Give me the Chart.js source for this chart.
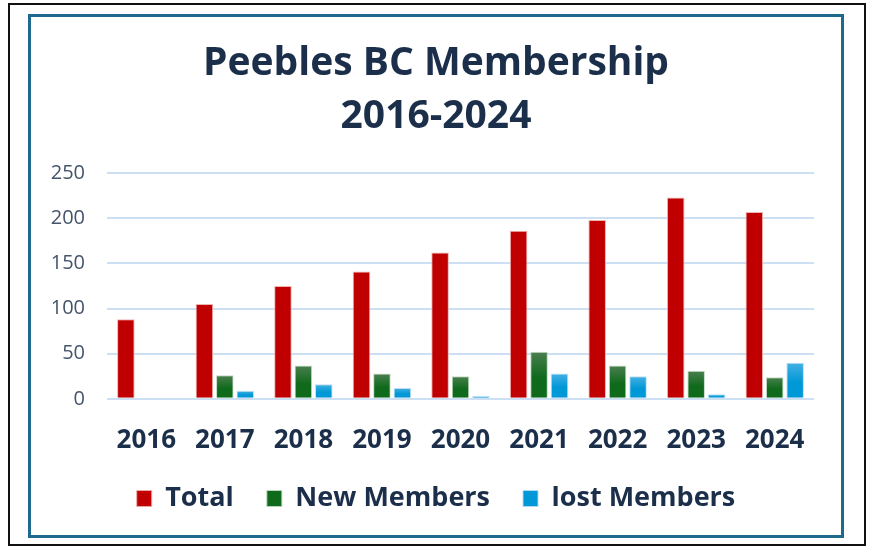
<!DOCTYPE html>
<html>
<head>
<meta charset="utf-8">
<script src="https://cdn.jsdelivr.net/npm/chart.js@4/dist/chart.umd.min.js"></script>
<style>
  html, body { margin: 0; padding: 0; background: #fff; }
  body { width: 872px; height: 549px; position: relative; overflow: hidden; }
  .outer { position: absolute; left: 8px; top: 3px; width: 854px; height: 539px; border: 2px solid #111; }
  .frame { position: absolute; left: 28px; top: 14px; width: 810px; height: 518px; border: 3px solid #1f6a8c; }
  .wrap { position: absolute; left: 31px; top: 17px; width: 810px; height: 518px; }
</style>
</head>
<body>
<div class="outer"></div>
<div class="frame"></div>
<div class="wrap"><canvas id="membershipChart"></canvas></div>
<script>
const years = ['2016', '2017', '2018', '2019', '2020', '2021', '2022', '2023', '2024'];
const totalMembers = [88, 105, 125, 141, 162, 186, 198, 223, 207];
const newMembers = [null, 26, 37, 28, 25, 52, 37, 31, 24];
const lostMembers = [null, 9, 16, 12, 3, 28, 25, 5, 40];
const yTicks = [0, 50, 100, 150, 200, 250];

const ink = '#1b2f4a';
const fontFamily = "'Open Sans', 'DejaVu Sans', sans-serif";

// vertical gradient per bar, top colour -> bottom colour
function barGradient(top, bottom) {
  return (context) => {
    if (context.type !== 'data') return bottom;
    const chart = context.chart;
    const yScale = chart.scales.y;
    const value = context.raw;
    if (!yScale || value == null) return bottom;
    const y0 = yScale.getPixelForValue(value);
    const y1 = yScale.getPixelForValue(0);
    if (!isFinite(y0) || !isFinite(y1) || y0 === y1) return bottom;
    const g = chart.ctx.createLinearGradient(0, y0, 0, y1);
    g.addColorStop(0, top);
    g.addColorStop(0.55, bottom);
    g.addColorStop(1, bottom);
    return g;
  };
}

const ctx = document.getElementById('membershipChart');
new Chart(ctx, {
  type: 'bar',
  data: {
    labels: years,
    datasets: [
      {
        label: 'Total',
        data: totalMembers,
        backgroundColor: '#c00000',
        borderColor: 'rgba(240, 170, 170, 0.9)',
        borderWidth: 1
      },
      {
        label: 'New Members',
        data: newMembers,
        backgroundColor: barGradient('#4b7f4f', '#0f6a1c'),
        borderColor: 'rgba(190, 215, 190, 0.9)',
        borderWidth: 1
      },
      {
        label: 'lost Members',
        data: lostMembers,
        backgroundColor: barGradient('#45b0e4', '#0098d6'),
        borderColor: 'rgba(180, 220, 240, 0.9)',
        borderWidth: 1
      }
    ]
  },
  options: {
    responsive: true,
    maintainAspectRatio: false,
    animation: false,
    datasets: {
      bar: {
        categoryPercentage: 0.78,
        barPercentage: 0.86
      }
    },
    layout: {
      padding: { left: 0, right: 0, top: 0, bottom: 13 }
    },
    scales: {
      y: {
        min: 0,
        max: 250,
        afterBuildTicks: (axis) => {
          axis.ticks = yTicks.map((v) => ({ value: v }));
        },
        afterFit: (axis) => {
          axis.width = 76;
        },
        border: { display: false },
        grid: {
          color: '#cddff2',
          lineWidth: 2,
          drawTicks: false
        },
        ticks: {
          color: '#44546a',
          padding: 22,
          font: { family: fontFamily, size: 20 }
        }
      },
      // empty right-hand strip so the plot stops short of the frame
      yRight: {
        position: 'right',
        afterFit: (axis) => {
          axis.width = 27;
        },
        border: { display: false },
        grid: { display: false },
        ticks: { display: false }
      },
      x: {
        afterFit: (axis) => {
          axis.height -= 22;
        },
        border: { display: false },
        grid: { display: false },
        ticks: {
          color: ink,
          padding: 18,
          font: { family: fontFamily, size: 26, weight: 'bold' }
        }
      }
    },
    plugins: {
      title: {
        display: true,
        text: ['Peebles BC Membership', '2016-2024'],
        color: ink,
        font: { family: fontFamily, size: 39, weight: 'bold', lineHeight: 1.36 },
        padding: { top: 20, bottom: 30 }
      },
      legend: {
        position: 'bottom',
        labels: {
          color: ink,
          boxWidth: 15,
          boxHeight: 16,
          padding: 33,
          font: { family: fontFamily, size: 27, weight: 'bold' }
        }
      },
      tooltip: { enabled: false }
    }
  }
});
</script>
</body>
</html>
